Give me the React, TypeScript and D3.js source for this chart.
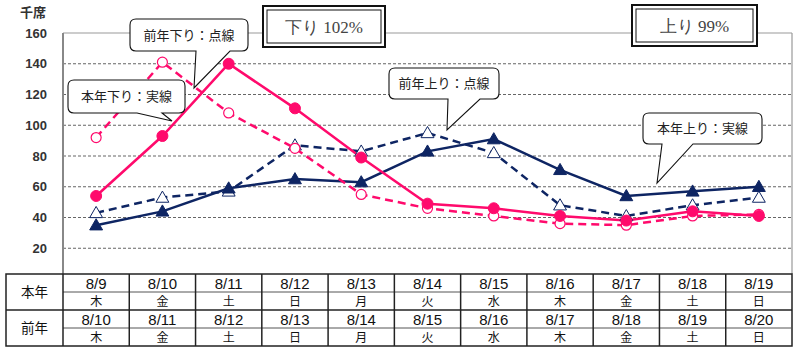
import React from 'react';
import * as d3 from 'd3';

const curDates = ['8/9', '8/10', '8/11', '8/12', '8/13', '8/14', '8/15', '8/16', '8/17', '8/18', '8/19'];
const curDays = ['木', '金', '土', '日', '月', '火', '水', '木', '金', '土', '日'];
const prevDates = ['8/10', '8/11', '8/12', '8/13', '8/14', '8/15', '8/16', '8/17', '8/18', '8/19', '8/20'];
const prevDays = ['木', '金', '土', '日', '月', '火', '水', '木', '金', '土', '日'];

const curDown = [54, 93, 140, 111, 79, 49, 46, 41, 38, 44, 41];
const prevDown = [92, 141, 108, 85, 55, 46, 41, 36, 35, 41, 42];
const curUp = [35, 44, 59, 65, 63, 83, 91, 71, 54, 57, 60];
const prevUp = [43, 53, 57, 87, 83, 95, 82, 48, 41, 48, 53];

const yTicks = [20, 40, 60, 80, 100, 120, 140, 160];

const PINK = '#FF0A6C';
const NAVY = '#0E2563';
const SANS = '"Noto Sans CJK JP", "Noto Sans", sans-serif';
const NARROW = '"Liberation Sans Narrow", "Liberation Sans", Arial, sans-serif';

function calloutPath(x: number, y: number, w: number, h: number, r: number, t1: number, t2: number, tx: number, ty: number) {
  const b = y + h;
  return [
    `M${x + r},${y}`,
    `H${x + w - r}`,
    `Q${x + w},${y} ${x + w},${y + r}`,
    `V${b - r}`,
    `Q${x + w},${b} ${x + w - r},${b}`,
    `H${t2}`,
    `L${tx},${ty}`,
    `L${t1},${b}`,
    `H${x + r}`,
    `Q${x},${b} ${x},${b - r}`,
    `V${y + r}`,
    `Q${x},${y} ${x + r},${y}`,
    'Z',
  ].join(' ');
}

export default function App() {
  const left = 63, right = 792, top = 33, bottom = 279, axisBottom = 274;
  const idx = curDates.map((_, i) => i);
  const x = d3.scaleBand<number>().domain(idx).range([left, right]);
  const cx = (i: number) => (x(i) as number) + x.bandwidth() / 2;
  const y = d3.scaleLinear().domain([0, 160]).range([bottom, top]);
  const line = d3.line<number>().x((_, i) => cx(i)).y((d) => y(d));
  const tri = d3.symbol().type(d3.symbolTriangle).size(72)() as string;

  const tTop = 274, rowH = 18;
  const tLeft = 6;

  const callouts = [
    { x: 130, y: 19, w: 118, h: 32, t1: 196, t2: 230, tx: 194, ty: 88, text: '前年下り：点線' },
    { x: 68, y: 80, w: 117, h: 33, t1: 137, t2: 162, tx: 172, ty: 121, text: '本年下り：実線' },
    { x: 389, y: 68, w: 110, h: 31, t1: 448, t2: 480, tx: 447, ty: 130, text: '前年上り：点線' },
    { x: 643, y: 113, w: 119, h: 31, t1: 662, t2: 693, tx: 657, ty: 183, text: '本年上り：実線' },
  ];

  const boxes = [
    { x: 263, y: 6, w: 122, h: 41, text: '下り 102%' },
    { x: 632, y: 5, w: 125, h: 41, text: '上り 99%' },
  ];

  return (
    <svg width={800} height={357} style={{ position: 'absolute', left: 0, top: 0, background: '#fff' }}>
      {/* gridlines */}
      {yTicks.filter((t) => t < 160).map((t) => (
        <line key={t} x1={left} x2={right} y1={y(t)} y2={y(t)} stroke="#666" strokeWidth={1.2} strokeDasharray="3,2" />
      ))}
      <line x1={left} x2={right} y1={y(160)} y2={y(160)} stroke="#999" strokeWidth={1.2} />
      <line x1={right} x2={right} y1={top} y2={axisBottom} stroke="#999" strokeWidth={1.2} />
      <line x1={left} x2={left} y1={top} y2={axisBottom} stroke="#888" strokeWidth={2} />
      {/* y tick labels */}
      {yTicks.map((t) => (
        <text key={t} x={47} y={y(t) + 4.5} textAnchor="end" fontFamily='"Liberation Sans", Arial, sans-serif' fontWeight="bold" fontSize={13} fill="#333">{t}</text>
      ))}
      <text x={33} y={17} textAnchor="middle" fontFamily={SANS} fontWeight="bold" fontSize={13} fill="#333">千席</text>

      {/* series lines */}
      <path d={line(prevUp) as string} fill="none" stroke={NAVY} strokeWidth={2.5} strokeDasharray="8,5" />
      <path d={line(curUp) as string} fill="none" stroke={NAVY} strokeWidth={2.5} />
      <path d={line(prevDown) as string} fill="none" stroke={PINK} strokeWidth={2.5} strokeDasharray="8,5" />
      <path d={line(curDown) as string} fill="none" stroke={PINK} strokeWidth={2.5} />

      {prevUp.map((v, i) => (
        <path key={'pu' + i} d={tri} transform={`translate(${cx(i)},${y(v) + 1})`} fill="#fff" stroke={NAVY} strokeWidth={1} />
      ))}
      {curUp.map((v, i) => (
        <path key={'cu' + i} d={tri} transform={`translate(${cx(i)},${y(v) + 1})`} fill={NAVY} stroke={NAVY} strokeWidth={1} />
      ))}
      {prevDown.map((v, i) => (
        <circle key={'pd' + i} cx={cx(i)} cy={y(v)} r={5} fill="#fff" stroke={PINK} strokeWidth={1.2} />
      ))}
      {curDown.map((v, i) => (
        <circle key={'cd' + i} cx={cx(i)} cy={y(v)} r={5.5} fill={PINK} stroke={PINK} strokeWidth={1} />
      ))}

      {/* callouts */}
      {callouts.map((c, i) => (
        <g key={'c' + i}>
          <path d={calloutPath(c.x, c.y, c.w, c.h, 6, c.t1, c.t2, c.tx, c.ty)} fill="#fff" stroke="#111" strokeWidth={1.1} />
          <text x={c.x + c.w / 2} y={c.y + c.h / 2 + 4.5} textAnchor="middle" fontFamily={SANS} fontSize={13} fill="#222">{c.text}</text>
        </g>
      ))}

      {/* ratio boxes */}
      {boxes.map((b, i) => (
        <g key={'b' + i}>
          <rect x={b.x} y={b.y} width={b.w} height={b.h} fill="#fff" stroke="#111" strokeWidth={2} />
          <rect x={b.x + 4} y={b.y + 4} width={b.w - 8} height={b.h - 8} fill="none" stroke="#111" strokeWidth={1} />
          <text x={b.x + b.w / 2} y={b.y + b.h / 2 + 6} textAnchor="middle" fontFamily='"Liberation Serif", serif' fontSize={17} fill="#444">{b.text}</text>
        </g>
      ))}

      {/* table */}
      <g fill="#111">
        <rect x={tLeft} y={tTop} width={right - tLeft} height={rowH * 4} fill="#fff" stroke="#222" strokeWidth={1.5} />
        <line x1={left} x2={right} y1={tTop + rowH} y2={tTop + rowH} stroke="#555" strokeWidth={1} />
        <line x1={tLeft} x2={right} y1={tTop + rowH * 2} y2={tTop + rowH * 2} stroke="#222" strokeWidth={1.5} />
        <line x1={left} x2={right} y1={tTop + rowH * 3} y2={tTop + rowH * 3} stroke="#555" strokeWidth={1} />
        <line x1={left} x2={left} y1={tTop} y2={tTop + rowH * 4} stroke="#222" strokeWidth={1.5} />
        {idx.slice(1).map((i) => (
          <line key={'v' + i} x1={x(i) as number} x2={x(i) as number} y1={tTop} y2={tTop + rowH * 4} stroke="#222" strokeWidth={1.5} />
        ))}
        <text x={(tLeft + left) / 2} y={tTop + rowH + 5} textAnchor="middle" fontFamily={SANS} fontSize={13.5}>本年</text>
        <text x={(tLeft + left) / 2} y={tTop + rowH * 3 + 5} textAnchor="middle" fontFamily={SANS} fontSize={13.5}>前年</text>
        {idx.map((i) => (
          <g key={'t' + i}>
            <text x={cx(i)} y={tTop + 14.5} textAnchor="middle" fontFamily={NARROW} fontSize={15}>{curDates[i]}</text>
            <text x={cx(i)} y={tTop + rowH + 14} textAnchor="middle" fontFamily={SANS} fontSize={12}>{curDays[i]}</text>
            <text x={cx(i)} y={tTop + rowH * 2 + 14.5} textAnchor="middle" fontFamily={NARROW} fontSize={15}>{prevDates[i]}</text>
            <text x={cx(i)} y={tTop + rowH * 3 + 14} textAnchor="middle" fontFamily={SANS} fontSize={12}>{prevDays[i]}</text>
          </g>
        ))}
      </g>
    </svg>
  );
}
